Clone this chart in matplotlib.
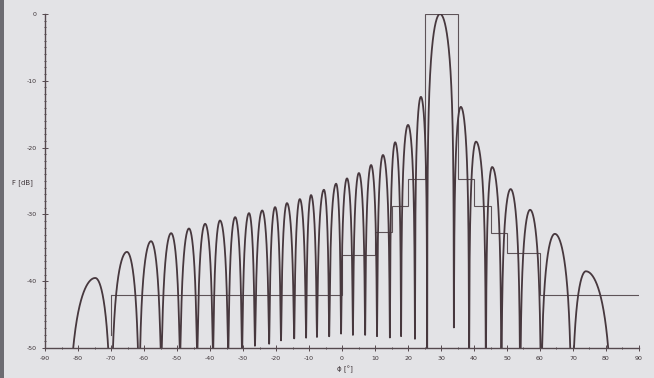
import numpy as np
import matplotlib.pyplot as plt
from matplotlib.patches import Rectangle
from matplotlib.ticker import MultipleLocator

plt.rcParams['axes.unicode_minus'] = False

# nulls of the array pattern [deg] and the depth reached there [dB]
null_deg = [-83.0, -70.0, -61.5, -54.8, -49.1, -43.9, -39.1, -34.5, -30.3,
            -26.4, -22.1, -18.5, -14.5, -10.9, -7.6, -3.9, -0.3, 3.3, 7.0,
            10.6, 14.5, 17.9, 22.1, 25.8, 33.9, 38.5, 43.6, 48.3, 54.0,
            60.3, 69.6, 82.0]
null_db = [-60, -60, -55, -52, -51, -51, -51, -51, -51,
           -49.6, -49.3, -48.8, -48.5, -48.4, -48.3, -48.2, -47.8, -48.0, -48.0,
           -48.2, -48.4, -48.2, -48.6, -55, -46.9, -55, -55, -55, -55,
           -55, -60, -60]

# lobe maxima between consecutive nulls
peak_deg = [-74.8, -65.2, -57.9, -51.8, -46.4, -41.5, -37.0, -32.4, -28.2,
            -24.2, -20.3, -16.7, -12.8, -9.4, -5.5, -1.8, 1.5, 5.1, 8.8,
            12.4, 16.1, 20.0, 23.9, 29.7, 36.0, 40.6, 45.5, 51.1, 57.0,
            64.5, 73.9]
peak_db = [-39.5, -35.6, -34.0, -32.8, -32.1, -31.4, -30.9, -30.4, -29.8,
           -29.4, -28.9, -28.3, -27.7, -27.1, -26.3, -25.4, -24.6, -23.8, -22.6,
           -21.1, -19.2, -16.6, -12.4, 0.0, -13.9, -19.1, -22.9, -26.2, -29.3,
           -32.9, -38.5]

# sidelobe template
mask_edges = [-70, 0, 10, 15, 20, 25, 35, 40, 45, 50, 60, 90]
mask_levels = [-42, -36, -32.6, -28.7, -24.7, 0, -24.7, -28.7, -32.8, -35.8, -42]
mask_drop = -48

x_ticks = np.arange(-90, 91, 10)
y_ticks = np.arange(-50, 1, 10)

paper = '#e3e3e6'
ink = '#47383e'


def lobe(a, p, b, level, da, db, n=120):
    # one lobe of the pattern, sin-shaped between two nulls
    t1 = np.linspace(0, 0.5, n)
    t2 = np.linspace(0.5, 1, n)
    ea = 10 ** ((da - level) / 10)
    eb = 10 ** ((db - level) / 10)
    y1 = level + 10 * np.log10((np.sin(np.pi * t1) ** 2 + ea) / (1 + ea))
    y2 = level + 10 * np.log10((np.sin(np.pi * t2) ** 2 + eb) / (1 + eb))
    x1 = a + (p - a) * t1 / 0.5
    x2 = p + (b - p) * (t2 - 0.5) / 0.5
    return np.concatenate([x1, x2]), np.concatenate([y1, y2])


xs, ys = [], []
for i in range(len(peak_deg)):
    x, y = lobe(null_deg[i], peak_deg[i], null_deg[i + 1], peak_db[i],
                null_db[i], null_db[i + 1])
    xs.append(x)
    ys.append(y)
theta = np.concatenate(xs)
F = np.concatenate(ys)

fig = plt.figure(figsize=(6.54, 3.78), dpi=100, facecolor=paper)
ax = fig.add_axes([0.069, 0.079, 0.908, 0.884], facecolor=paper)

ax.plot(theta, F, color=ink, lw=1.3, solid_joinstyle='round')
ax.stairs(mask_levels, mask_edges, baseline=None, color='#5e5358', lw=0.8)
ax.plot([mask_edges[0], mask_edges[0]], [mask_levels[0], mask_drop],
        color='#5e5358', lw=0.8)

ax.set_xlim(-90, 90)
ax.set_ylim(-50, 0)
ax.set_xticks(x_ticks)
ax.set_yticks(y_ticks)
ax.xaxis.set_minor_locator(MultipleLocator(5))
ax.yaxis.set_minor_locator(MultipleLocator(1))
ax.tick_params(which='both', direction='inout', colors='#55494e',
               labelsize=4.5, labelcolor='#3c3337', width=0.7)
ax.tick_params(which='major', length=4, pad=4)
ax.tick_params(which='minor', length=2)
for side in ['top', 'right']:
    ax.spines[side].set_visible(False)
for side in ['left', 'bottom']:
    ax.spines[side].set_color('#55494e')
    ax.spines[side].set_linewidth(1.0)

fig.text(0.018, 0.516, 'F [dB]', fontsize=5, color='#3c3337', va='center')
fig.text(0.515, 0.013, 'ϕ [°]', fontsize=5, color='#3c3337', va='bottom')

# dark strip along the left edge of the page
fig.patches.append(Rectangle((0, 0), 4 / 654, 1, transform=fig.transFigure,
                             facecolor='#6d6c72', edgecolor='none'))

fig.savefig('out.png', dpi=100, facecolor=paper)
